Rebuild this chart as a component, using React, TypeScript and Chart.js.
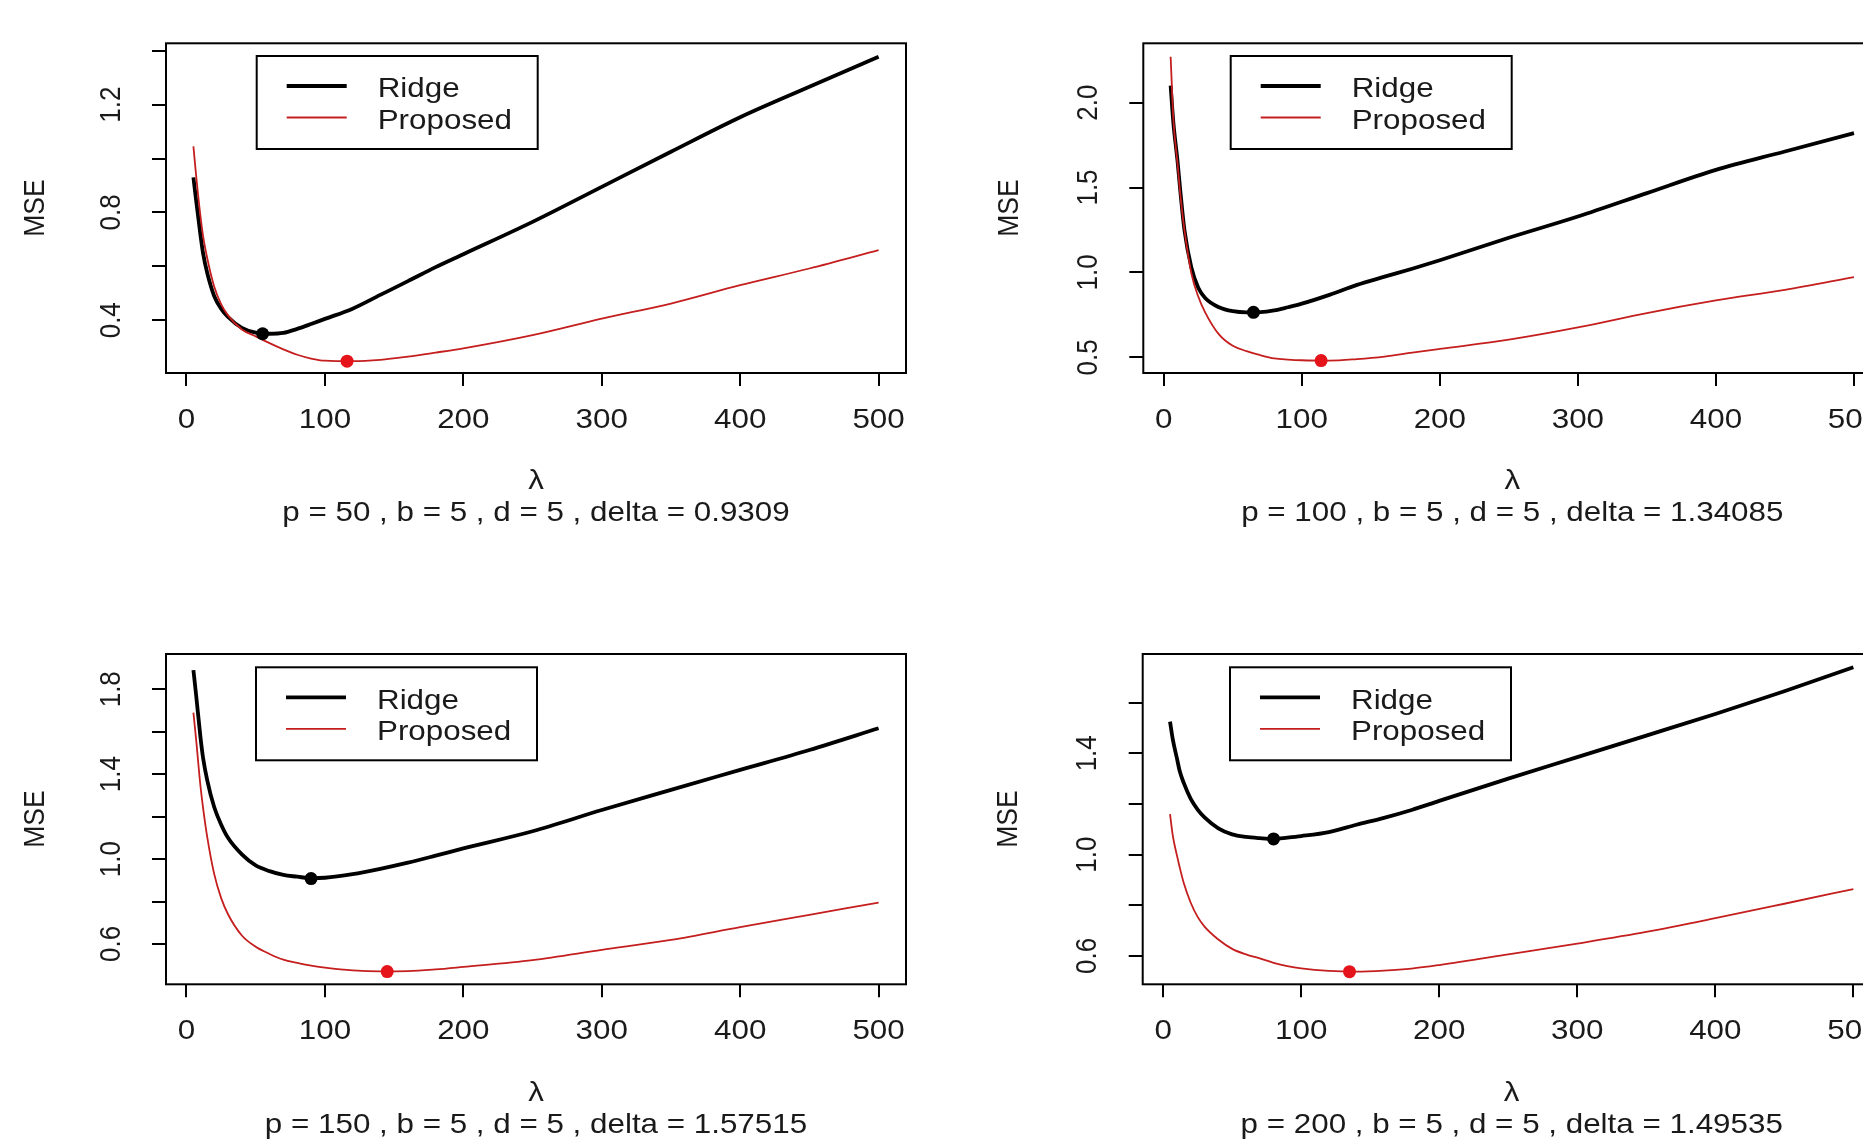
import React, { useEffect, useRef } from 'react';
import { Chart, registerables } from 'chart.js';

Chart.register(...registerables);

// ---------- data ----------
const LAMBDA = [5, 7, 10, 12, 15, 20, 25, 30, 40, 50, 60, 70, 80, 90, 100, 120, 140, 160, 180, 200, 250, 300, 350, 400, 450, 500];
const X_TICKS = [0, 100, 200, 300, 400, 500];
const SERIES_NAMES = ['Ridge', 'Proposed'];
const X_TITLE = 'λ';
const Y_TITLE = 'MSE';

const RIDGE_P50 = [0.93, 0.843, 0.72, 0.648, 0.575, 0.49, 0.443, 0.412, 0.372, 0.354, 0.35, 0.353, 0.368, 0.386, 0.405, 0.443, 0.494, 0.545, 0.597, 0.645, 0.765, 0.895, 1.025, 1.153, 1.266, 1.378];
const PROPOSED_P50 = [1.045, 0.935, 0.79, 0.712, 0.63, 0.525, 0.46, 0.418, 0.366, 0.34, 0.315, 0.292, 0.272, 0.258, 0.25, 0.248, 0.253, 0.265, 0.28, 0.296, 0.345, 0.406, 0.462, 0.53, 0.592, 0.66];
const RIDGE_P100 = [2.1, 1.88, 1.655, 1.48, 1.25, 1.03, 0.91, 0.85, 0.795, 0.772, 0.765, 0.766, 0.776, 0.795, 0.816, 0.868, 0.927, 0.975, 1.022, 1.072, 1.204, 1.329, 1.467, 1.604, 1.712, 1.82];
const PROPOSED_P100 = [2.27, 1.9, 1.64, 1.46, 1.25, 0.995, 0.858, 0.765, 0.635, 0.568, 0.537, 0.513, 0.494, 0.487, 0.483, 0.481, 0.49, 0.505, 0.528, 0.55, 0.604, 0.676, 0.761, 0.835, 0.898, 0.973];
const RIDGE_P150 = [1.89, 1.77, 1.58, 1.476, 1.371, 1.245, 1.163, 1.1, 1.022, 0.97, 0.943, 0.925, 0.917, 0.91, 0.912, 0.929, 0.954, 0.983, 1.016, 1.05, 1.131, 1.231, 1.326, 1.42, 1.514, 1.616];
const PROPOSED_P150 = [1.69, 1.56, 1.35, 1.24, 1.103, 0.93, 0.817, 0.74, 0.64, 0.587, 0.553, 0.526, 0.511, 0.498, 0.489, 0.476, 0.471, 0.472, 0.48, 0.492, 0.524, 0.572, 0.619, 0.679, 0.737, 0.795];
const RIDGE_P200 = [1.525, 1.455, 1.38, 1.33, 1.282, 1.22, 1.178, 1.147, 1.104, 1.08, 1.07, 1.065, 1.062, 1.067, 1.073, 1.089, 1.118, 1.145, 1.176, 1.212, 1.3, 1.385, 1.47, 1.555, 1.645, 1.74];
const PROPOSED_P200 = [1.16, 1.075, 0.997, 0.95, 0.887, 0.81, 0.754, 0.716, 0.665, 0.628, 0.606, 0.59, 0.573, 0.56, 0.551, 0.541, 0.538, 0.542, 0.55, 0.564, 0.606, 0.649, 0.695, 0.749, 0.806, 0.864];

// minimum markers, one per panel (p = 50, 100, 150, 200)
const RIDGE_MIN_LAMBDA = [55, 65, 90, 80];
const RIDGE_MIN_MSE = [0.35, 0.765, 0.908, 1.062];
const PROPOSED_MIN_LAMBDA = [116, 114, 145, 135];
const PROPOSED_MIN_MSE = [0.248, 0.481, 0.47, 0.538];

const Y_TICKS_P50 = [0.4, 0.6, 0.8, 1.0, 1.2, 1.4];
const Y_LABELS_P50 = ['0.4', '', '0.8', '', '1.2', ''];
const Y_TICKS_P100 = [0.5, 1.0, 1.5, 2.0];
const Y_LABELS_P100 = ['0.5', '1.0', '1.5', '2.0'];
const Y_TICKS_P150 = [0.6, 0.8, 1.0, 1.2, 1.4, 1.6, 1.8];
const Y_LABELS_P150 = ['0.6', '', '1.0', '', '1.4', '', '1.8'];
const Y_TICKS_P200 = [0.6, 0.8, 1.0, 1.2, 1.4, 1.6];
const Y_LABELS_P200 = ['0.6', '', '1.0', '', '1.4', ''];

const SUBTITLES = [
  'p = 50 , b = 5 , d = 5 , delta = 0.9309',
  'p = 100 , b = 5 , d = 5 , delta = 1.34085',
  'p = 150 , b = 5 , d = 5 , delta = 1.57515',
  'p = 200 , b = 5 , d = 5 , delta = 1.49535',
];

// ---------- styles / layout ----------
const FONT = '"Liberation Sans", Arial, Helvetica, sans-serif';
const TEXT = '#1a1a1a';
const FS = 28; // horizontal text size
const FS_ROT = 26; // rotated text size
const STRETCH = 1.12; // the reference is slightly wider than tall
const RIDGE_COLOR = '#000000';
const PROP_COLOR = '#c41e1e';
const PROP_DOT = '#e5141a';

const PANELS = [
  { left: 0, top: 0, w: 931, h: 571, area: { l: 166, t: 43.3, r: 906, b: 373 }, yRange: [0.2043, 1.4275], ridge: RIDGE_P50, proposed: PROPOSED_P50, yTicks: Y_TICKS_P50, yLabels: Y_LABELS_P50, k: 0, mseOff: 130, legDx: 90.7, legDy: 12.7 },
  { left: 931, top: 0, w: 990, h: 571, area: { l: 212.3, t: 43.3, r: 950.3, b: 373 }, yRange: [0.408, 2.349], ridge: RIDGE_P100, proposed: PROPOSED_P100, yTicks: Y_TICKS_P100, yLabels: Y_LABELS_P100, k: 1, mseOff: 133.5, legDx: 87.4, legDy: 12.7 },
  { left: 0, top: 571, w: 931, h: 571, area: { l: 166, t: 83, r: 906, b: 413.3 }, yRange: [0.41, 1.966], ridge: RIDGE_P150, proposed: PROPOSED_P150, yTicks: Y_TICKS_P150, yLabels: Y_LABELS_P150, k: 2, mseOff: 130, legDx: 90, legDy: 13.3 },
  { left: 931, top: 571, w: 990, h: 571, area: { l: 211.7, t: 83, r: 949.7, b: 413.3 }, yRange: [0.488, 1.792], ridge: RIDGE_P200, proposed: PROPOSED_P200, yTicks: Y_TICKS_P200, yLabels: Y_LABELS_P200, k: 3, mseOff: 133.5, legDx: 87.3, legDy: 13.3 },
];

function drawText(ctx: CanvasRenderingContext2D, text: string, x: number, y: number, size: number, align: CanvasTextAlign, rotated: boolean) {
  ctx.save();
  ctx.translate(x, y);
  ctx.scale(STRETCH, 1);
  if (rotated) ctx.rotate(-Math.PI / 2);
  ctx.font = `${size}px ${FONT}`;
  ctx.fillStyle = TEXT;
  ctx.textAlign = align;
  ctx.textBaseline = 'middle';
  ctx.fillText(text, 0, 0);
  ctx.restore();
}

// ---------- plugin: R-style frame, labels and legend ----------
const rFramePlugin = {
  id: 'rFrame',
  afterDraw(chart: any, _args: any, opts: any) {
    const { ctx, chartArea } = chart;
    const xs = chart.scales.x;
    const ys = chart.scales.y;
    ctx.save();
    // plot box
    ctx.strokeStyle = '#000';
    ctx.lineWidth = 2;
    ctx.strokeRect(chartArea.left, chartArea.top, chartArea.right - chartArea.left, chartArea.bottom - chartArea.top);

    // y tick labels (parallel to the axis)
    (opts.values as number[]).forEach((v, i) => {
      const lab = opts.labels[i];
      if (!lab) return;
      drawText(ctx, lab, chartArea.left - 54.5, ys.getPixelForValue(v), FS_ROT, 'center', true);
    });
    // x tick labels
    X_TICKS.forEach((v) => {
      drawText(ctx, String(v), xs.getPixelForValue(v), chartArea.bottom + 47, FS, 'center', false);
    });
    // axis titles and subtitle
    const cx = (chartArea.left + chartArea.right) / 2;
    drawText(ctx, X_TITLE, cx, chartArea.bottom + 108.5, FS, 'center', false);
    drawText(ctx, opts.subtitle, cx, chartArea.bottom + 140.5, FS, 'center', false);
    drawText(ctx, Y_TITLE, chartArea.left - opts.mseOff, (chartArea.top + chartArea.bottom) / 2, FS_ROT + 0.5, 'center', true);

    // legend box
    const lx = chartArea.left + opts.legDx;
    const ly = chartArea.top + opts.legDy;
    const lw = 281;
    const lh = 93;
    ctx.fillStyle = '#fff';
    ctx.fillRect(lx, ly, lw, lh);
    ctx.lineWidth = 2;
    ctx.strokeStyle = '#000';
    ctx.strokeRect(lx, ly, lw, lh);
    const rows = [30, 61.5];
    [0, 1].forEach((di) => {
      const ds = chart.data.datasets[di];
      ctx.beginPath();
      ctx.strokeStyle = ds.borderColor;
      ctx.lineWidth = ds.borderWidth;
      ctx.moveTo(lx + 30, ly + rows[di]);
      ctx.lineTo(lx + 90, ly + rows[di]);
      ctx.stroke();
      drawText(ctx, ds.label, lx + 121, ly + rows[di] + 3.5, FS, 'left', false);
    });
    ctx.restore();
  },
};

function buildConfig(p: any) {
  return {
    type: 'line',
    data: {
      datasets: [
        {
          label: SERIES_NAMES[0],
          data: LAMBDA.map((x, i) => ({ x, y: p.ridge[i] })),
          borderColor: RIDGE_COLOR,
          borderWidth: 3.8,
          pointRadius: 0,
          cubicInterpolationMode: 'monotone',
          order: 3,
        },
        {
          label: SERIES_NAMES[1],
          data: LAMBDA.map((x, i) => ({ x, y: p.proposed[i] })),
          borderColor: PROP_COLOR,
          borderWidth: 1.8,
          pointRadius: 0,
          cubicInterpolationMode: 'monotone',
          order: 2,
        },
        {
          label: 'ridge-min',
          data: [{ x: RIDGE_MIN_LAMBDA[p.k], y: RIDGE_MIN_MSE[p.k] }],
          showLine: false,
          pointRadius: 6.5,
          pointBackgroundColor: RIDGE_COLOR,
          pointBorderColor: RIDGE_COLOR,
          pointBorderWidth: 0,
          order: 1,
        },
        {
          label: 'proposed-min',
          data: [{ x: PROPOSED_MIN_LAMBDA[p.k], y: PROPOSED_MIN_MSE[p.k] }],
          showLine: false,
          pointRadius: 6.5,
          pointBackgroundColor: PROP_DOT,
          pointBorderColor: PROP_DOT,
          pointBorderWidth: 0,
          order: 0,
        },
      ],
    },
    options: {
      responsive: false,
      maintainAspectRatio: false,
      animation: false,
      events: [],
      layout: { padding: { left: 0, top: p.area.t, right: p.w - p.area.r, bottom: 0 } },
      plugins: {
        legend: { display: false },
        tooltip: { enabled: false },
        title: { display: false },
        rFrame: {
          values: p.yTicks,
          labels: p.yLabels,
          legDx: p.legDx,
          legDy: p.legDy,
          mseOff: p.mseOff,
          subtitle: SUBTITLES[p.k],
        },
      },
      scales: {
        x: {
          type: 'linear',
          position: 'bottom',
          min: -14.8,
          max: 519.8,
          bounds: 'data',
          afterBuildTicks: (s: any) => {
            s.ticks = X_TICKS.map((v) => ({ value: v }));
          },
          afterFit: (s: any) => {
            s.height = p.h - p.area.b;
          },
          border: { display: false },
          grid: { display: true, drawOnChartArea: false, drawTicks: true, tickLength: 13, color: '#000', lineWidth: 2 },
          ticks: { display: false, autoSkip: false, maxRotation: 0, minRotation: 0 },
          title: { display: false },
        },
        y: {
          type: 'linear',
          position: 'left',
          min: p.yRange[0],
          max: p.yRange[1],
          bounds: 'data',
          afterBuildTicks: (s: any) => {
            s.ticks = p.yTicks.map((v: number) => ({ value: v }));
          },
          afterFit: (s: any) => {
            s.width = p.area.l;
          },
          border: { display: false },
          grid: { display: true, drawOnChartArea: false, drawTicks: true, tickLength: 14, color: '#000', lineWidth: 2 },
          ticks: { display: false },
          title: { display: false },
        },
      },
    },
    plugins: [rFramePlugin],
  };
}

function Panel({ cfg }: { cfg: any }) {
  const ref = useRef<HTMLCanvasElement>(null);
  useEffect(() => {
    if (!ref.current) return;
    const chart = new Chart(ref.current, buildConfig(cfg) as any);
    return () => chart.destroy();
  }, [cfg]);
  return (
    <canvas
      ref={ref}
      width={cfg.w}
      height={cfg.h}
      style={{ position: 'absolute', left: cfg.left, top: cfg.top, width: cfg.w, height: cfg.h }}
    />
  );
}

export default function App() {
  return (
    <div
      style={{
        position: 'absolute',
        left: 0,
        top: 0,
        width: 1863,
        height: 1142,
        overflow: 'hidden',
        background: '#ffffff',
      }}
    >
      {PANELS.map((p) => (
        <Panel key={p.k} cfg={p} />
      ))}
    </div>
  );
}
